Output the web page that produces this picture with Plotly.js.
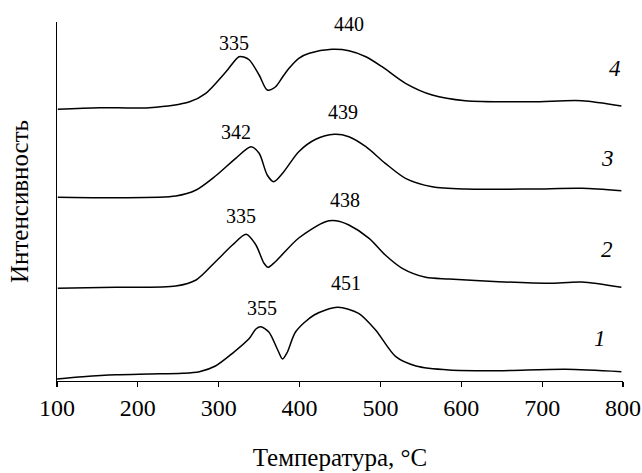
<!DOCTYPE html>
<html>
<head>
<meta charset="utf-8">
<script src="https://cdn.plot.ly/plotly-3.0.1.min.js"></script>
<style>html,body{margin:0;padding:0;background:#fff;}#chart{width:642px;height:473px;}</style>
</head>
<body>
<div id="chart"></div>
<script>
// Temperature (°C) and intensity (offset, arbitrary units) for each curve
const t1 = [100,132,173,214,255,276,296,317,338,346,352,362,373,379,385,395,418,447,473,494,519,544,585,646,729,798];
const y1 = [1,3.3,5.3,6,6.7,8.3,14,26.7,41.7,51,53.3,48,30,21,28,48,65,72.7,66.7,50,23.3,14,10,9.3,10.7,8.3];

const t2 = [101,173,247,272,296,317,334,346,356,361,370,399,432,445,461,486,506,527,556,585,646,708,749,798];
const y2 = [91.7,92.7,94,100,118.3,135,145.7,135,116.7,112.7,118.3,142,158.3,159.3,155,141.7,125,111.7,102.7,101,98.3,96.7,98,92.7];

const t3 = [101,173,247,272,296,321,340,350,360,368,379,399,420,443,461,482,506,531,564,605,687,749,798];
const y3 = [182.7,182.3,184,190,204,221.7,233.3,226.7,205,198.3,206.7,228.3,240.7,245.7,243.3,233.3,216.7,201.7,193.3,191,191,191.7,189.3];

const t4 = [101,152,214,264,284,309,325,331,338,350,360,370,379,387,399,412,440,461,482,502,531,564,605,687,749,798];
const y4 = [270.7,272.3,272.3,278.3,286.7,308.3,323.3,323,320,305,290,293,303,311.7,321.7,326.7,330.7,329.3,323.3,313.3,296.7,285,279.3,278.3,279.3,274];

// Peak labels
const peakText = ["355","451","335","438","342","439","335","440"];
const peakX    = [353,457,327,456,321,454,319,461];
const peakY    = [72,97.5,164.5,179.7,247.8,267.8,337.5,356.3];

// Curve numbers
const curveText = ["1","2","3","4"];
const curveX    = [772,780,781,790];
const curveY    = [41.7,131,221.7,311.7];

const xTicks = [100,200,300,400,500,600,700,800];

const serif = "Times New Roman, Liberation Serif, DejaVu Serif, serif";
const lineStyle = {color:"#000", width:1.5, shape:"spline", smoothing:0.8};

const traces = [[t1,y1],[t2,y2],[t3,y3],[t4,y4]].map(function(d){
  return {x:d[0], y:d[1], type:"scatter", mode:"lines", line:lineStyle, hoverinfo:"skip", showlegend:false};
});

const annotations = [];
peakText.forEach(function(s,i){
  annotations.push({x:peakX[i], y:peakY[i], xref:"x", yref:"y", text:s, showarrow:false,
    font:{family:serif, size:20, color:"#000"}});
});
curveText.forEach(function(s,i){
  annotations.push({x:curveX[i], y:curveY[i], xref:"x", yref:"y", text:s, showarrow:false,
    font:{family:serif, size:23, color:"#000", style:"italic"}});
});

const layout = {
  width:642, height:473,
  margin:{l:57, r:19, t:22, b:92, pad:0},
  paper_bgcolor:"#fff", plot_bgcolor:"#fff",
  font:{family:serif, color:"#000"},
  xaxis:{
    range:[100,800], tickvals:xTicks, ticktext:xTicks.map(String),
    showline:true, linecolor:"#000", linewidth:1.3, mirror:false,
    ticks:"outside", ticklen:5, tickwidth:1.2, tickcolor:"#000",
    showgrid:false, zeroline:false,
    tickfont:{family:serif, size:24, color:"#000"},
    title:{text:"Температура, °С", font:{family:serif, size:25, color:"#000"}, standoff:28}
  },
  yaxis:{
    range:[-1,358], showline:true, linecolor:"#000", linewidth:1.3,
    ticks:"", showticklabels:false, showgrid:false, zeroline:false,
    title:{text:"Интенсивность", font:{family:serif, size:25, color:"#000"}, standoff:20}
  },
  annotations:annotations
};

Plotly.newPlot("chart", traces, layout, {displayModeBar:false, staticPlot:true});
</script>
</body>
</html>
